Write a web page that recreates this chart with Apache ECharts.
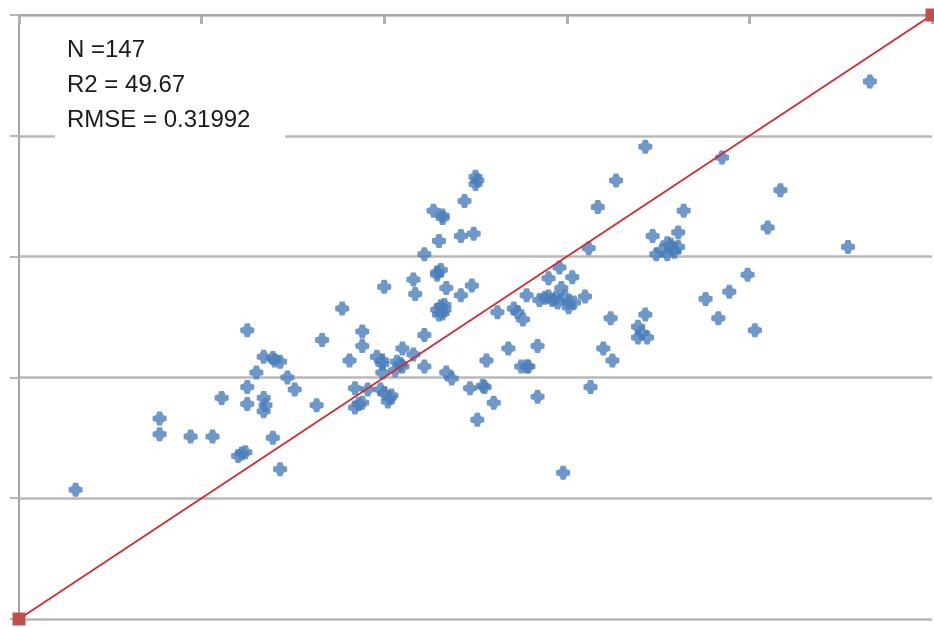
<!DOCTYPE html>
<html>
<head>
<meta charset="utf-8">
<script src="https://cdn.jsdelivr.net/npm/echarts@6/dist/echarts.min.js"></script>
<style>
html,body{margin:0;padding:0;background:#fff;}
#chart{width:934px;height:627px;}
</style>
</head>
<body>
<div id="chart"></div>
<script>
const xValues = [
0.31,0.77,0.77,0.94,1.06,1.11,1.25,1.66,1.34,1.39,1.43,1.30,1.47,1.25,1.51,1.34,1.34,1.25,1.63,1.39,1.20,1.24,1.43,
1.77,1.88,1.88,1.81,1.96,1.99,2.10,2.07,2.10,2.16,1.99,2.06,2.22,2.22,1.84,1.91,1.84,1.88,2.00,2.02,2.34,2.37,2.47,2.54,2.60,2.51,2.56,
2.50,2.50,2.44,2.27,2.32,2.42,2.49,2.30,2.22,2.16,2.29,2.31,2.00,2.17,2.34,2.42,2.48,2.31,2.32,2.29,
2.62,2.71,2.76,2.68,2.84,2.75,2.79,2.84,2.98,3.13,3.20,3.25,3.24,2.78,2.85,2.90,2.94,2.97,2.95,2.90,2.96,3.03,3.01,3.04,3.10,3.12,3.17,3.27,
4.66,3.43,3.85,4.17,3.64,4.10,3.47,3.61,4.54,3.55,3.61,3.58,3.49,3.55,3.99,3.89,3.76,3.83,4.03,3.43,3.39,3.39,3.44,
2.33,2.30,2.33,2.51,2.03,2.04,1.98,2.92,2.99,2.88,3.52,3.59,3.57,1.35,2.29,2.32,2.09,1.99,2.78,3.41,3.01,1.86,1.40,1.22,2.55,2.73
];
const yValues = [
1.07,1.66,1.53,1.51,1.51,1.83,2.39,2.31,2.17,2.16,2.13,2.04,2.00,1.92,1.90,1.83,1.72,1.78,1.77,1.50,1.35,1.38,1.24,
2.57,2.38,2.26,2.14,2.17,2.11,2.24,2.13,2.09,2.19,2.04,2.06,2.35,2.09,1.91,1.90,1.75,1.79,1.87,1.80,2.04,1.99,1.91,1.93,1.79,1.65,2.14,
3.66,3.60,3.46,3.38,3.32,3.17,3.19,3.13,3.02,2.81,2.85,2.89,2.75,2.69,2.74,2.68,2.76,2.59,2.53,2.56,
2.54,2.57,2.48,2.24,2.26,2.09,2.09,1.84,1.21,1.92,2.24,2.14,2.49,2.68,2.64,2.67,2.66,2.74,2.62,2.82,2.91,2.83,2.58,2.62,2.67,3.07,3.41,3.63,
4.45,3.91,3.82,3.55,3.38,3.24,3.17,3.20,3.08,3.11,3.08,3.06,3.02,3.02,2.85,2.71,2.65,2.49,2.39,2.52,2.42,2.33,2.33,
2.56,2.52,2.60,3.63,1.83,1.85,1.90,2.64,2.67,2.66,3.05,3.04,3.10,1.77,2.87,3.34,2.11,2.14,2.09,2.37,2.62,1.78,2.14,1.37,1.92,2.54
];
// 1:1 reference line
const refLine = [[0, 0], [5, 5]];
const statLines = ['N =147', 'R2 = 49.67', 'RMSE = 0.31992'];
const axisMin = 0, axisMax = 5, axisStep = 1;

const points = xValues.map((x, i) => [x, yValues[i]]);
const markerPath = 'path://M4,0 L8,0 L9,3 L12,4 L12,8 L9,9 L8,12 L4,12 L3,9 L0,8 L0,4 L3,3 Z';

const chart = echarts.init(document.getElementById('chart'));
chart.setOption({
  animation: false,
  backgroundColor: '#ffffff',
  grid: {left: 19, right: 2, top: 15, bottom: 8, containLabel: false},
  xAxis: {
    type: 'value', position: 'top', min: axisMin, max: axisMax, interval: axisStep,
    axisLine: {show: true, onZero: false, lineStyle: {color: '#a6a6a6', width: 2}},
    axisTick: {show: true, inside: true, length: 9, lineStyle: {color: '#b0b0b0', width: 3}},
    axisLabel: {show: false},
    splitLine: {show: false}
  },
  yAxis: {
    type: 'value', min: axisMin, max: axisMax, interval: axisStep,
    axisLine: {show: true, onZero: false, lineStyle: {color: '#a6a6a6', width: 2}},
    axisTick: {show: true, inside: false, length: 9, lineStyle: {color: '#b8b8b8', width: 2}},
    axisLabel: {show: false},
    splitLine: {show: true, lineStyle: {color: '#b8b8b8', width: 2.5}}
  },
  series: [
    {
      type: 'scatter', data: points, symbol: markerPath, symbolSize: 14,
      itemStyle: {color: '#4a7ebb'}, z: 3
    },
    {
      type: 'line', data: refLine, symbol: 'rect', symbolSize: 13, clip: false,
      itemStyle: {color: '#c0504d'},
      lineStyle: {color: '#d42a2e', width: 1.8}, z: 4
    }
  ],
  graphic: [
    {type: 'rect', left: 55, top: 24, shape: {width: 230, height: 122}, style: {fill: '#ffffff'}, z: 100},
    {type: 'text', left: 67, top: 38, style: {text: statLines[0], font: '24px "Liberation Sans", Arial, sans-serif', fill: '#1a1a1a'}, z: 101},
    {type: 'text', left: 67, top: 73, style: {text: statLines[1], font: '24px "Liberation Sans", Arial, sans-serif', fill: '#1a1a1a'}, z: 101},
    {type: 'text', left: 67, top: 108, style: {text: statLines[2], font: '24px "Liberation Sans", Arial, sans-serif', fill: '#1a1a1a'}, z: 101}
  ]
});
</script>
</body>
</html>
